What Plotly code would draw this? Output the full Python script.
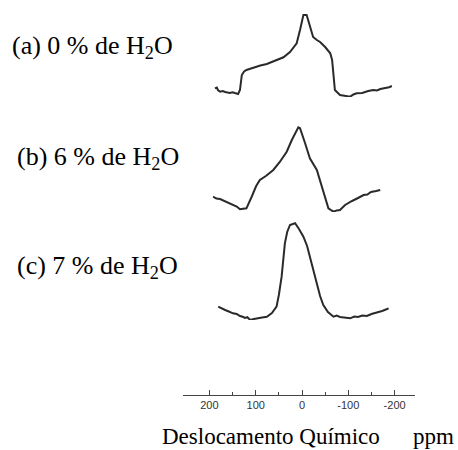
import plotly.graph_objects as go

# Chemical shift (ppm) and intensity (arbitrary units)
ppm_a = [188, 184, 181.6, 177, 171, 166, 156, 150, 145, 138, 134, 130, 125, 120, 110, 102, 90, 76, 58, 40, 26, 17, 11.5, 4.3,
         -3, -10, -17, -24, -32, -39, -50, -61, -65, -71, -82, -93, -104, -111, -118, -130, -137, -143, -154, -162, -169, -182, -188, -194]
int_a = [8.7, 9.5, 7, 5.3, 6, 5, 4, 4.8, 4, 3, 7, 22, 25.5, 27, 28.5, 30, 31.5, 33, 36, 39.7, 45, 51, 53.7, 67,
         82, 82, 72, 60, 57, 55, 50, 43.7, 37, 7, 2, 1.2, 0.3, 2.5, 3.7, 4, 5.5, 6, 7, 6.6, 8, 9, 9.8, 11]

ppm_b = [192, 185, 177, 170, 163, 149, 141, 134, 127, 120, 108, 99, 91, 78, 62, 48, 33, 22, 8, 4.3, -6.5, -17, -32,
         -43, -57, -63, -68, -75, -82, -93, -100, -108, -121, -133, -141, -149, -160, -169]
int_b = [15.3, 13.5, 13, 11.5, 10.3, 7, 5.5, 2.7, 3.2, 3.7, 16, 26, 32, 36, 42, 50, 60.3, 72, 84.7, 83.7, 69, 53.7, 42,
         24, 3.7, 1.8, 0.3, 1.6, 2, 7, 9, 11, 14, 17, 17.5, 20, 21, 22]

ppm_c = [181, 174, 166, 158, 149, 141, 134, 128, 123, 118, 112, 104, 95, 86, 76, 65, 55, 50, 44, 41, 37, 32, 26, 15, 6.5, -3, -11,
         -17, -24, -32, -39, -46, -56, -68, -75, -82, -93, -104, -113, -121, -130, -140, -150, -158, -166, -173, -181, -187]
int_c = [13.3, 11.5, 10, 8.5, 6.7, 6, 4, 3.2, 2, 2.8, 0, 1, 2, 2.6, 3.3, 7, 13.3, 25, 43.3, 60, 76.7, 88, 95, 96.7, 91, 83.3, 74,
         63.3, 50, 36.7, 24, 15, 8, 3.3, 4.5, 3, 2.2, 1.7, 3.5, 3, 4.5, 4, 6, 7, 7.5, 9, 10.5, 11.7]

labels = ["(a) 0 % de H<sub>2</sub>O", "(b) 6 % de H<sub>2</sub>O", "(c) 7 % de H<sub>2</sub>O"]
tick_vals = [200, 100, 0, -100, -200]
tick_text = ["200", "100", "0", "-100", "-200"]
minor_vals = [150, 50, -50, -150]
x_title = "Deslocamento Químico"
x_unit = "ppm"

H = 395.0  # plot-area height in px
line = dict(color="#2a2a2a", width=2)

fig = go.Figure()
fig.add_trace(go.Scatter(x=ppm_a, y=int_a, mode="lines", line=line, yaxis="y", xaxis="x"))
fig.add_trace(go.Scatter(x=ppm_b, y=int_b, mode="lines", line=line, yaxis="y2", xaxis="x"))
fig.add_trace(go.Scatter(x=ppm_c, y=int_c, mode="lines", line=line, yaxis="y3", xaxis="x"))

hidden = dict(visible=False, fixedrange=True)
fig.update_layout(
    width=458, height=450,
    margin=dict(l=183, r=43, t=0, b=55),
    paper_bgcolor="white", plot_bgcolor="white",
    showlegend=False,
    xaxis=dict(range=[257, -244], anchor="free", position=0,
               showline=True, linecolor="#444", linewidth=1,
               showgrid=False, zeroline=False,
               ticks="inside", ticklen=5, tickcolor="#444", tickwidth=1,
               tickmode="array", tickvals=tick_vals, ticktext=tick_text,
               tickfont=dict(family="Liberation Sans", size=11, color="#333"),
               minor=dict(tickmode="array", tickvals=minor_vals, ticks="inside",
                          ticklen=3, tickcolor="#444", tickwidth=1)),
    yaxis=dict(domain=[(H - 97) / H, 1.0], range=[0, 97], **hidden),
    yaxis2=dict(domain=[(H - 212) / H, (H - 110) / H], range=[0, 102], **hidden),
    yaxis3=dict(domain=[(H - 320) / H, (H - 215) / H], range=[0, 105], **hidden),
)

lab_font = dict(family="Liberation Serif", size=26, color="black")
for txt, xp, yp in zip(labels, [10, 15, 15], [47, 158, 267]):
    fig.add_annotation(text=txt, xref="paper", yref="paper",
                       x=(xp - 183) / 232, y=(H - yp) / H,
                       xanchor="left", yanchor="middle", showarrow=False, font=lab_font)

title_font = dict(family="Liberation Serif", size=23, color="black")
fig.add_annotation(text=x_title, xref="paper", yref="paper",
                   x=(160 - 183) / 232, y=(H - 437) / H,
                   xanchor="left", yanchor="middle", showarrow=False, font=title_font)
fig.add_annotation(text=x_unit, xref="paper", yref="paper",
                   x=(456 - 183) / 232, y=(H - 437) / H,
                   xanchor="right", yanchor="middle", showarrow=False, font=title_font)

fig.write_html("out.html")
